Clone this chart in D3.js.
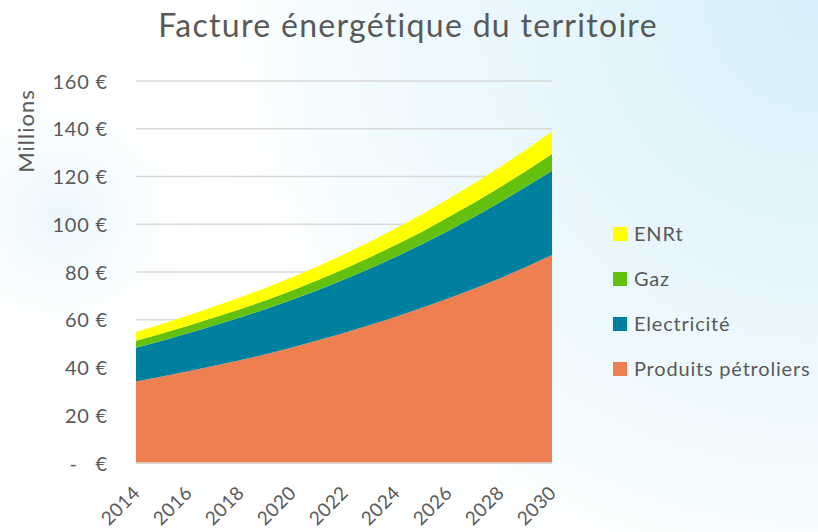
<!DOCTYPE html>
<html>
<head>
<meta charset="utf-8">
<script src="https://cdn.jsdelivr.net/npm/d3@7"></script>
<style>
  html, body { margin: 0; padding: 0; background: #ffffff; }
  svg { display: block; font-family: Lato, "Open Sans", sans-serif; }
</style>
</head>
<body>
<div id="chart"></div>
<script>
// Facture énergétique du territoire (millions d'euros), 2014-2030
const years = [2014, 2015, 2016, 2017, 2018, 2019, 2020, 2021, 2022,
               2023, 2024, 2025, 2026, 2027, 2028, 2029, 2030];
const produitsPetroliers = [34.1, 36.2, 38.4, 40.7, 43.0, 45.6, 48.4, 51.4, 54.5,
                            57.8, 61.3, 65.0, 68.9, 73.0, 77.4, 82.1, 87.1];
const electricite = [14.2, 15.0, 15.9, 16.9, 17.9, 18.9, 20.0, 21.1, 22.4,
                     23.7, 25.1, 26.6, 28.3, 30.0, 31.8, 33.6, 35.3];
const gaz = [2.9, 3.0, 3.2, 3.3, 3.5, 3.7, 3.9, 4.1, 4.4,
             4.7, 5.0, 5.3, 5.7, 6.0, 6.3, 6.6, 7.0];
const enrt = [3.7, 4.0, 4.3, 4.6, 4.9, 5.2, 5.5, 5.8, 6.1,
              6.5, 6.9, 7.3, 7.7, 8.1, 8.5, 8.9, 9.4];
const seriesNames = ["Produits pétroliers", "Electricité", "Gaz", "ENRt"];
const seriesColors = ["#EE7F50", "#00809F", "#64C00F", "#FFFF00"];
const yTicks = [0, 20, 40, 60, 80, 100, 120, 140, 160];
const xTicks = [2014, 2016, 2018, 2020, 2022, 2024, 2026, 2028, 2030];

const W = 818, H = 532;
const margin = { left: 136, right: 266, top: 81, bottom: 69 };
const textColor = "#595959";

const svg = d3.select("#chart").append("svg")
  .attr("width", W).attr("height", H);

// soft sky backdrop
const defs = svg.append("defs");
const g1 = defs.append("radialGradient").attr("id", "skyTR")
  .attr("gradientUnits", "userSpaceOnUse")
  .attr("cx", 818).attr("cy", 0).attr("r", 640);
g1.append("stop").attr("offset", 0).attr("stop-color", "#d6f0fb");
g1.append("stop").attr("offset", 0.45).attr("stop-color", "#e8f7fd");
g1.append("stop").attr("offset", 0.8).attr("stop-color", "#f5fcfe");
g1.append("stop").attr("offset", 1).attr("stop-color", "#ffffff").attr("stop-opacity", 0);
const g2 = defs.append("radialGradient").attr("id", "skyL")
  .attr("gradientUnits", "userSpaceOnUse")
  .attr("cx", 60).attr("cy", 215).attr("r", 170);
g2.append("stop").attr("offset", 0).attr("stop-color", "#eaf7fc");
g2.append("stop").attr("offset", 1).attr("stop-color", "#ffffff").attr("stop-opacity", 0);

svg.append("rect").attr("width", W).attr("height", H).attr("fill", "#ffffff");
svg.append("rect").attr("width", W).attr("height", H).attr("fill", "url(#skyTR)");
svg.append("rect").attr("width", W).attr("height", H).attr("fill", "url(#skyL)");

const x = d3.scaleLinear().domain([2014, 2030]).range([margin.left, W - margin.right]);
const y = d3.scaleLinear().domain([0, 160]).range([H - margin.bottom, margin.top]);

// gridlines
svg.append("g").selectAll("line").data(yTicks).join("line")
  .attr("x1", x(2014)).attr("x2", x(2030))
  .attr("y1", d => y(d)).attr("y2", d => y(d))
  .attr("stroke", "#d9d9d9").attr("stroke-width", 1.5);

// stacked areas
const rows = years.map((yr, i) => ({
  year: yr,
  "Produits pétroliers": produitsPetroliers[i],
  "Electricité": electricite[i],
  "Gaz": gaz[i],
  "ENRt": enrt[i]
}));
const stacked = d3.stack().keys(seriesNames)(rows);
const area = d3.area()
  .x(d => x(d.data.year))
  .y0(d => y(d[0]))
  .y1(d => y(d[1]));
svg.append("g").selectAll("path").data(stacked).join("path")
  .attr("d", area)
  .attr("fill", (d, i) => seriesColors[i]);

// baseline
svg.append("line")
  .attr("x1", x(2014)).attr("x2", x(2030))
  .attr("y1", y(0)).attr("y2", y(0))
  .attr("stroke", "#d9d9d9").attr("stroke-width", 1.5);

// y axis
const yAxis = d3.axisLeft(y).tickValues(yTicks).tickSize(0).tickPadding(0)
  .tickFormat(d => d === 0 ? "-\u00a0\u00a0\u00a0€" : d + "\u00a0€");
const ya = svg.append("g").attr("transform", `translate(${margin.left - 28},0)`).call(yAxis);
ya.select(".domain").remove();
ya.selectAll("text")
  .attr("fill", textColor).attr("font-size", 20)
  .attr("letter-spacing", "0.8px")
  .attr("font-family", "Lato, 'Open Sans', sans-serif")
  .attr("dy", "0.36em");

// x axis
const xAxis = d3.axisBottom(x).tickValues(xTicks).tickSize(0).tickFormat(d3.format("d"));
const xa = svg.append("g").attr("transform", `translate(0,${y(0)})`).call(xAxis);
xa.select(".domain").remove();
xa.selectAll("text")
  .attr("fill", textColor).attr("font-size", 19)
  .attr("letter-spacing", "0.5px")
  .attr("font-family", "Lato, 'Open Sans', sans-serif")
  .attr("text-anchor", "end")
  .attr("y", 0).attr("dy", 0)
  .attr("transform", "translate(5,31) rotate(-45)");

// y axis title
svg.append("text")
  .attr("transform", `translate(34,131) rotate(-90)`)
  .attr("text-anchor", "middle")
  .attr("fill", textColor).attr("font-size", 22)
  .attr("letter-spacing", "1px")
  .text("Millions");

// chart title
svg.append("text")
  .attr("x", 408).attr("y", 37)
  .attr("text-anchor", "middle")
  .attr("fill", textColor).attr("font-size", 32)
  .attr("letter-spacing", "1.3px")
  .text("Facture énergétique du territoire");

// legend
const legendItems = seriesNames.map((n, i) => ({ name: n, color: seriesColors[i] })).reverse();
const lg = svg.append("g").selectAll("g").data(legendItems).join("g")
  .attr("transform", (d, i) => `translate(613,${234 + i * 45})`);
lg.append("rect").attr("x", 0).attr("y", -7).attr("width", 14).attr("height", 14)
  .attr("fill", d => d.color);
lg.append("text").attr("x", 21).attr("dy", "0.36em")
  .attr("fill", textColor).attr("font-size", 20)
  .attr("letter-spacing", "0.8px")
  .text(d => d.name);
</script>
</body>
</html>
